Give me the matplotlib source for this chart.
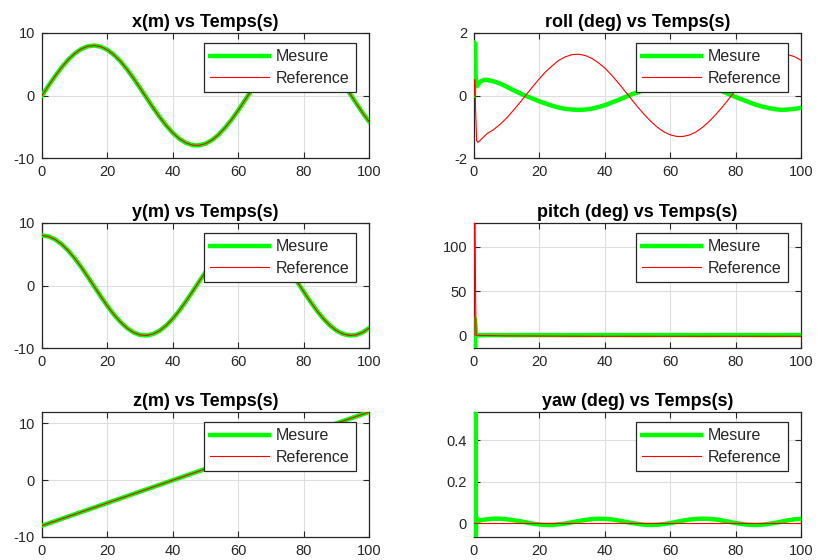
import matplotlib
matplotlib.use("Agg")
import matplotlib.pyplot as plt

plt.rcParams['font.family'] = ['Liberation Sans', 'DejaVu Sans']

# ---------------- data ----------------
t_pos = [0, 2, 4, 6, 8, 10, 12, 14, 16, 18, 20, 22, 24, 26, 28, 30, 32, 34, 36, 38,
         40, 42, 44, 46, 48, 50, 52, 54, 56, 58, 60, 62, 64, 66, 68, 70, 72, 74, 76, 78,
         80, 82, 84, 86, 88, 90, 92, 94, 96, 98, 100]

x_pos = [0, 1.59, 3.11, 4.50, 5.73, 6.72, 7.45, 7.88, 8.00, 7.80, 7.29, 6.50, 5.46, 4.18,
         2.73, 1.18, -0.40, -1.98, -3.47, -4.83, -5.99, -6.93, -7.58, -7.94, -7.98, -7.70,
         -7.12, -6.26, -5.13, -3.84, -2.36, -0.80, 0.80, 2.35, 3.83, 5.13, 6.25, 7.12, 7.70,
         7.98, 7.94, 7.59, 6.94, 6.00, 4.85, 3.46, 2.00, 0.42, -1.18, -2.74, -4.17]

y_pos = [8.00, 7.84, 7.37, 6.61, 5.58, 4.34, 2.93, 1.39, -0.20, -1.78, -3.29, -4.67, -5.85,
         -6.82, -7.52, -7.91, -7.99, -7.75, -7.21, -6.38, -5.30, -4.00, -2.54, -0.99, 0.60,
         2.16, 3.64, 4.99, 6.13, 7.02, 7.64, 7.96, 7.96, 7.65, 7.02, 6.14, 4.99, 3.65, 2.17,
         0.61, -0.98, -2.53, -3.99, -5.29, -6.37, -7.21, -7.75, -7.99, -7.91, -7.51, -6.82]

t_z = [0, 20, 40, 60, 80, 100]
z_pos = [-8, -4, 0, 4, 8, 12]

t_att = [0, 0.1, 0.3, 0.5, 0.8, 1.2, 2, 3] + t_pos[2:]

roll_meas = [0, 1.7, 1.65, 0.6, 0.3, 0.35, 0.45, 0.5,
             0.5, 0.45, 0.38, 0.28, 0.17, 0.07, -0.02, -0.10, -0.19, -0.26, -0.33, -0.39,
             -0.43, -0.45, -0.46, -0.45, -0.42, -0.37, -0.31, -0.23, -0.15, -0.06, 0.03, 0.10,
             0.18, 0.26, 0.33, 0.39, 0.42, 0.45, 0.46, 0.45, 0.41, 0.36, 0.29, 0.21, 0.13, 0.04,
             -0.05, -0.13, -0.21, -0.29, -0.35, -0.40, -0.44, -0.46, -0.45, -0.43, -0.39]

roll_ref = [0, 0.5, 0.5, -0.5, -1.45, -1.5, -1.42, -1.32,
            -1.22, -1.09, -0.92, -0.72, -0.48, -0.23, 0.03, 0.29, 0.54, 0.77, 0.96, 1.13,
            1.24, 1.31, 1.32, 1.28, 1.19, 1.05, 0.88, 0.66, 0.42, 0.16, -0.10, -0.36, -0.60,
            -0.82, -1.01, -1.16, -1.26, -1.31, -1.31, -1.26, -1.16, -1.01, -0.82, -0.60, -0.36,
            -0.10, 0.16, 0.42, 0.66, 0.87, 1.05, 1.19, 1.28, 1.32, 1.31, 1.24, 1.13]

t_pitch = [0, 0.1, 0.25, 0.45, 0.6, 1, 5, 10, 20, 30, 40, 50, 60, 70, 80, 90, 100]
pitch_meas = [0, -16, 19, 10, 2, 0.5, 0.6, 0.5, 0.6, 0.5, 0.6, 0.5, 0.6, 0.5, 0.6, 0.5, 0.6]
t_pitch_ref = [0, 0.1, 0.3, 0.6, 1, 5, 10, 20, 30, 40, 50, 60, 70, 80, 90, 100]
pitch_ref = [0, 135, 135, 0.5, 0.3, 0, -0.3, -0.5, -0.7, -0.8, -0.8, -0.8, -0.8, -0.8, -0.8, -0.8]

t_yaw = [0, 0.1, 0.25, 0.4, 0.55, 0.7, 1] + t_pos[1:]
yaw_meas = [0, 0.56, -0.07, 0.56, -0.07, 0.03, 0.008,
            0.015, 0.019, 0.022, 0.022, 0.019, 0.015, 0.010, 0.004, -0.002, -0.006,
            -0.008, -0.008, -0.005, -0.001, 0.005, 0.011, 0.016, 0.020, 0.022, 0.021,
            0.019, 0.014, 0.008, 0.002, -0.003, -0.007, -0.008, -0.007, -0.004, 0.001,
            0.007, 0.013, 0.018, 0.021, 0.022, 0.021, 0.018, 0.013, 0.007, 0.001, -0.004,
            -0.007, -0.008, -0.007, -0.003, 0.002, 0.008, 0.014, 0.019, 0.021]
t_yaw_ref = [0, 25, 50, 75, 100]
yaw_ref = [0.003, 0.003, 0.003, 0.003, 0.003]

titles = ['x(m) vs Temps(s)', 'roll (deg) vs Temps(s)',
          'y(m) vs Temps(s)', 'pitch (deg) vs Temps(s)',
          'z(m) vs Temps(s)', 'yaw (deg) vs Temps(s)']
legend_labels = ['Mesure', 'Reference']
x_ticks = [0, 20, 40, 60, 80, 100]

panels = [
    (t_pos, x_pos, t_pos, x_pos, (-10, 10), [-10, 0, 10], ['-10', '0', '10']),
    (t_att, roll_meas, t_att, roll_ref, (-2, 2), [-2, 0, 2], ['-2', '0', '2']),
    (t_pos, y_pos, t_pos, y_pos, (-10, 10), [-10, 0, 10], ['-10', '0', '10']),
    (t_pitch, pitch_meas, t_pitch_ref, pitch_ref, (-14, 127), [0, 50, 100], ['0', '50', '100']),
    (t_z, z_pos, t_z, z_pos, (-10, 12), [-10, 0, 10], ['-10', '0', '10']),
    (t_yaw, yaw_meas, t_yaw_ref, yaw_ref, (-0.066, 0.535), [0, 0.2, 0.4], ['0', '0.2', '0.4']),
]

# ---------------- layout ----------------
W, H = 818, 560
fig = plt.figure(figsize=(W / 100, H / 100), dpi=100)
lefts = [42, 474]
tops = [33, 223, 412]
aw, ah = 327, 125

TXT = '#262626'
for i, (tm, ym, tr, yr, ylim, yt, ytl) in enumerate(panels):
    r, c = divmod(i, 2)
    ax = fig.add_axes([lefts[c] / W, 1 - (tops[r] + ah) / H, aw / W, ah / H])
    ax.plot(tm, ym, color='#00ff00', lw=3.2, label=legend_labels[0],
            solid_joinstyle='round', zorder=3)
    ax.plot(tr, yr, color='#ff0000', lw=0.8, label=legend_labels[1], zorder=3.1)
    ax.set_xlim(0, 100)
    ax.set_ylim(*ylim)
    ax.set_xticks(x_ticks)
    ax.set_xticklabels([str(v) for v in x_ticks])
    ax.set_yticks(yt)
    ax.set_yticklabels(ytl)
    ax.grid(True, color='#dedede', lw=0.8)
    ax.set_axisbelow(True)
    ax.tick_params(direction='in', length=4, width=0.8, top=True, right=True,
                   labelsize=10.5, colors=TXT, pad=5)
    for s in ax.spines.values():
        s.set_color(TXT)
        s.set_linewidth(0.9)
    ax.set_title(titles[i], fontsize=13, fontweight='bold', color='black', pad=4)
    leg = ax.legend(loc='upper right', bbox_to_anchor=(1 - 13 / aw, 1 - 10 / ah),
                    borderaxespad=0, fontsize=11.5, handlelength=3.7, handletextpad=0.4,
                    labelspacing=0.4, borderpad=0.4, fancybox=False, framealpha=1,
                    edgecolor=TXT)
    leg.set_zorder(5)
    leg.get_frame().set_linewidth(0.9)
    for txt in leg.get_texts():
        txt.set_color(TXT)

fig.savefig('out.png', dpi=100)
